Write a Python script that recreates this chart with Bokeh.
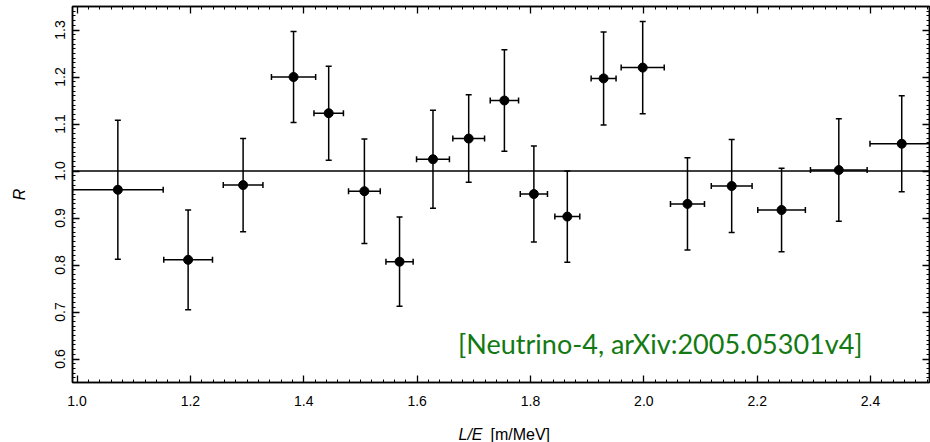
import numpy as np
from bokeh.plotting import figure
from bokeh.models import (ColumnDataSource, Whisker, TeeHead, Span, Label, LinearAxis,
                          SingleIntervalTicker, Range1d, NumeralTickFormatter,
                          CustomJSTickFormatter)
from bokeh.embed import file_html
from bokeh.resources import INLINE

# L/E bin centres [m/MeV]
le = [1.072, 1.196, 1.293, 1.382, 1.444, 1.507, 1.569, 1.628, 1.691, 1.754,
      1.806, 1.865, 1.929, 1.998, 2.077, 2.155, 2.243, 2.344, 2.455]
# half bin widths
le_err = [0.080, 0.043, 0.035, 0.039, 0.026, 0.028, 0.024, 0.029, 0.028, 0.025,
          0.024, 0.022, 0.022, 0.038, 0.030, 0.036, 0.042, 0.050, 0.056]
# ratio R
ratio = [0.960, 0.811, 0.970, 1.200, 1.123, 0.957, 0.807, 1.025, 1.069, 1.150,
         0.951, 0.903, 1.197, 1.220, 0.930, 0.968, 0.917, 1.002, 1.058]
# uncertainty on R
ratio_err = [0.148, 0.106, 0.099, 0.097, 0.100, 0.111, 0.095, 0.104, 0.093, 0.108,
             0.102, 0.097, 0.099, 0.098, 0.098, 0.099, 0.089, 0.109, 0.102]

x_ticks_interval = 0.2
y_ticks_interval = 0.1
annotation = "[Neutrino-4, arXiv:2005.05301v4]"

x = np.array(le); xe = np.array(le_err)
y = np.array(ratio); ye = np.array(ratio_err)
src = ColumnDataSource(dict(x=x, y=y, xlo=x - xe, xhi=x + xe, ylo=y - ye, yhi=y + ye))

TICK_FONT = "Liberation Sans"

p = figure(width=930, height=442, x_range=Range1d(0.992, 2.504), y_range=Range1d(0.55, 1.35),
           output_backend="svg", toolbar_location=None,
           min_border_left=72, min_border_right=1, min_border_top=6, min_border_bottom=60)
p.xgrid.visible = False
p.ygrid.visible = False
p.outline_line_color = "black"
p.outline_line_width = 1.5
p.background_fill_color = "white"
p.border_fill_color = "white"


def style_axis(ax, labels=True):
    ax.axis_line_color = "black"
    ax.axis_line_width = 1.5
    ax.major_tick_in = 7
    ax.major_tick_out = 0
    ax.minor_tick_in = 3
    ax.minor_tick_out = 0
    ax.major_tick_line_color = "black"
    ax.minor_tick_line_color = "black"
    ax.major_tick_line_width = 1.3
    ax.minor_tick_line_width = 1.0
    if labels:
        ax.major_label_text_font = TICK_FONT
        ax.major_label_text_font_size = "14px"
        ax.major_label_text_color = "black"
    else:
        ax.formatter = CustomJSTickFormatter(code="return '';")
        ax.major_label_standoff = 0


xt = SingleIntervalTicker(interval=x_ticks_interval, num_minor_ticks=10)
yt = SingleIntervalTicker(interval=y_ticks_interval, num_minor_ticks=10)

p.xaxis.ticker = xt
p.yaxis.ticker = yt
p.xaxis.formatter = NumeralTickFormatter(format="0.0")
p.yaxis.formatter = NumeralTickFormatter(format="0.0")
style_axis(p.xaxis[0])
style_axis(p.yaxis[0])
p.xaxis.major_label_standoff = 13
p.yaxis.major_label_standoff = 8
p.yaxis.major_label_orientation = "vertical"
p.yaxis.axis_label = "R"
p.yaxis.axis_label_text_font = TICK_FONT
p.yaxis.axis_label_text_font_style = "italic"
p.yaxis.axis_label_text_font_size = "16px"
p.yaxis.axis_label_text_color = "black"
p.yaxis.axis_label_standoff = 24

top = LinearAxis(ticker=SingleIntervalTicker(interval=x_ticks_interval, num_minor_ticks=10))
style_axis(top, labels=False)
p.add_layout(top, "above")
right = LinearAxis(ticker=SingleIntervalTicker(interval=y_ticks_interval, num_minor_ticks=10))
style_axis(right, labels=False)
p.add_layout(right, "right")

p.add_layout(Span(location=1.0, dimension="width", line_color="black", line_width=1.3))

vw = Whisker(source=src, base="x", lower="ylo", upper="yhi", dimension="height",
             line_color="black", line_width=1.5,
             lower_head=TeeHead(size=6, line_width=1.5, line_color="black"),
             upper_head=TeeHead(size=6, line_width=1.5, line_color="black"))
hw = Whisker(source=src, base="y", lower="xlo", upper="xhi", dimension="width",
             line_color="black", line_width=1.5,
             lower_head=TeeHead(size=6, line_width=1.5, line_color="black"),
             upper_head=TeeHead(size=6, line_width=1.5, line_color="black"))
p.add_layout(vw)
p.add_layout(hw)
p.scatter("x", "y", source=src, size=9, color="black", marker="circle")

p.add_layout(Label(x=2.386, y=0.633, text=annotation, text_align="right",
                   text_baseline="alphabetic", text_font="Lato", text_font_size="27px",
                   text_color="#137913"))

# x axis label with italic L/E, placed in the bottom side panel (canvas units)
parts = [("L/E", 458, "italic"), ("[m/MeV]", 490, "normal")]
for txt, sx, style in parts:
    p.add_layout(Label(x=sx, y=425, x_units="canvas", y_units="canvas", text=txt,
                       text_font=TICK_FONT, text_font_size="16px", text_font_style=style,
                       text_line_height=0.1,
                       text_baseline="top", text_color="black"), "below")

open("out.html", "w").write(file_html(p, INLINE))
